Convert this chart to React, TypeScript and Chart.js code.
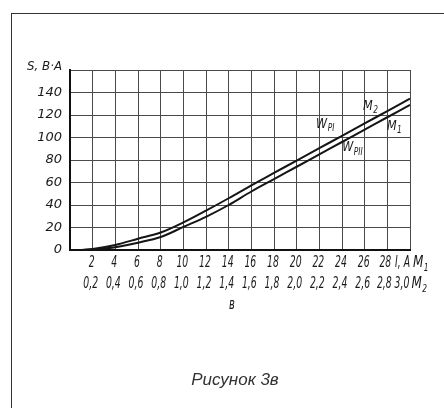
import React, { useEffect, useRef } from 'react';
import { Chart, registerables } from 'chart.js';

Chart.register(...registerables);

// Current I, A (scale M1)
const currentA = [1, 2, 4, 6, 8, 10, 12, 14, 16, 18, 20, 22, 24, 26, 28, 30];
// Upper curve W_PI (M2)
const sUpper = [0, 1, 4.5, 10, 15.5, 24.5, 35, 46, 57.5, 68.5, 79.5, 90.5, 101.5, 112.5, 123.5, 134.5];
// Lower curve W_PII (M1)
const sLower = [0, 0.5, 2.5, 6.5, 11.5, 20.5, 29.5, 40, 52, 63, 74, 85, 96, 107, 118, 129];

const xTickValues = [0, 2, 4, 6, 8, 10, 12, 14, 16, 18, 20, 22, 24, 26, 28, 30];
const xTicksM1 = ['', '2', '4', '6', '8', '10', '12', '14', '16', '18', '20', '22', '24', '26', '28', ''];
const xTicksM2 = ['', '0,2', '0,4', '0,6', '0,8', '1,0', '1,2', '1,4', '1,6', '1,8', '2,0', '2,2', '2,4', '2,6', '2,8', '3,0'];
const xAxisTitleM1 = 'I, A';
const yTickValues = [0, 20, 40, 60, 80, 100, 120, 140, 160];
const yTickLabels = ['0', '20', '40', '60', '80', '100', '120', '140', ''];

const FONT = '"DejaVu Sans", sans-serif';
const SQUEEZE = 0.62;

// draw condensed text (GOST-like narrow italic)
function narrow(ctx: CanvasRenderingContext2D, text: string, x: number, y: number, size: number, align: 'left' | 'center' | 'right') {
  ctx.font = `italic ${size}px ${FONT}`;
  const w = ctx.measureText(text).width * SQUEEZE;
  ctx.textAlign = align;
  ctx.textBaseline = 'middle';
  ctx.fillText(text, x, y, w);
  return w;
}

function drawSub(ctx: CanvasRenderingContext2D, main: string, sub: string, x0: number, cy: number, size = 14, align = 'center') {
  ctx.font = `italic ${size}px ${FONT}`;
  const w1 = ctx.measureText(main).width * 0.8;
  const subSize = Math.round(size * 0.68);
  ctx.font = `italic ${subSize}px ${FONT}`;
  const w2 = ctx.measureText(sub).width * 0.75;
  const start = align === 'center' ? x0 - (w1 + w2) / 2 : x0;
  ctx.textAlign = 'left';
  ctx.textBaseline = 'middle';
  ctx.font = `italic ${size}px ${FONT}`;
  ctx.fillText(main, start, cy, w1);
  ctx.font = `italic ${subSize}px ${FONT}`;
  ctx.fillText(sub, start + w1 + 0.5, cy + size * 0.32, w2);
  return start + w1 + w2;
}

const decor = {
  id: 'decor',
  afterDraw(chart: any) {
    const { ctx, chartArea, scales } = chart;
    const x = scales.x;
    const y = scales.y;
    ctx.save();
    ctx.fillStyle = '#1a1a1a';

    // x tick labels, two scales (M1: current, M2)
    const row1 = chartArea.bottom + 13.5;
    const row2 = row1 + 21;
    const last = xTickValues.length - 1;
    x.ticks.forEach((t: any) => {
      const i = xTickValues.indexOf(t.value);
      if (i < 0) return;
      const px = x.getPixelForValue(t.value);
      if (xTicksM1[i]) narrow(ctx, xTicksM1[i], px - (i === last - 1 ? 2 : 1), row1, 15, 'center');
      if (xTicksM2[i]) narrow(ctx, xTicksM2[i], px - (i === last ? 8 : i === last - 1 ? 3 : 2), row2, 15, 'center');
    });
    // axis end labels
    const r = chartArea.right;
    const wI = narrow(ctx, xAxisTitleM1, r - 15, row1, 15, 'left');
    drawSub(ctx, 'M', '1', r - 15 + wI + 3, row1, 15, 'left');
    ctx.font = `italic 15px ${FONT}`;
    const w30 = ctx.measureText(xTicksM2[last]).width * SQUEEZE;
    drawSub(ctx, 'M', '2', r - 8 + w30 / 2 + 2, row2, 15, 'left');

    // axis titles
    ctx.font = `italic 13px ${FONT}`;
    ctx.textAlign = 'right';
    ctx.textBaseline = 'middle';
    ctx.fillText('S, В·А', chartArea.left - 8, chartArea.top - 3, 35);
    narrow(ctx, 'в', 232, 305, 16, 'center');

    // curve labels
    drawSub(ctx, 'W', 'PI', x.getPixelForValue(22.5), y.getPixelForValue(112));
    drawSub(ctx, 'W', 'PII', x.getPixelForValue(24.9), y.getPixelForValue(91));
    drawSub(ctx, 'M', '2', x.getPixelForValue(26.5), y.getPixelForValue(128));
    drawSub(ctx, 'M', '1', x.getPixelForValue(28.6), y.getPixelForValue(110));
    ctx.restore();
  },
};

export default function App() {
  const ref = useRef<HTMLCanvasElement | null>(null);

  useEffect(() => {
    document.body.style.margin = '0';
    const canvas = ref.current;
    if (!canvas) return;
    const lineDs = (data: number[]) => ({
      data: currentA.map((v, i) => ({ x: v, y: data[i] })),
      borderColor: '#151515',
      borderWidth: 2,
      pointRadius: 0,
      fill: false,
      cubicInterpolationMode: 'monotone' as const,
    });
    const chart = new Chart(canvas, {
      type: 'line',
      data: {
        datasets: [lineDs(sUpper), lineDs(sLower)],
      },
      options: {
        animation: false,
        responsive: false,
        maintainAspectRatio: false,
        layout: { padding: { left: 0, top: 70, right: 34, bottom: 0 } },
        plugins: { legend: { display: false }, tooltip: { enabled: false } },
        scales: {
          x: {
            type: 'linear',
            min: 0,
            max: 30,
            afterBuildTicks: (s: any) => {
              s.ticks = xTickValues.map((v) => ({ value: v }));
            },
            afterFit: (s: any) => {
              s.height = 158;
            },
            grid: { color: '#4a4a4a', lineWidth: 1, drawTicks: false },
            border: { display: true, color: '#111', width: 2 },
            ticks: { display: false, autoSkip: false },
          },
          y: {
            type: 'linear',
            min: 0,
            max: 160,
            afterBuildTicks: (s: any) => {
              s.ticks = yTickValues.map((v) => ({ value: v }));
            },
            afterFit: (s: any) => {
              s.width = 70;
            },
            grid: { color: '#4a4a4a', lineWidth: 1, drawTicks: false },
            border: { display: true, color: '#111', width: 2 },
            ticks: {
              padding: 8,
              color: '#1a1a1a',
              font: { family: FONT, size: 13, style: 'italic' },
              callback: (v: any) => {
                const i = yTickValues.indexOf(Number(v));
                return i < 0 ? '' : yTickLabels[i];
              },
            },
          },
        },
      },
      plugins: [decor],
    });
    return () => chart.destroy();
  }, []);

  return (
    <div style={{ position: 'relative', width: 444, height: 408, background: '#fff', overflow: 'hidden' }}>
      <div
        style={{
          position: 'absolute',
          left: 11,
          top: 13,
          width: 460,
          height: 420,
          borderLeft: '1.5px solid #333',
          borderTop: '1.5px solid #333',
        }}
      />
      <canvas ref={ref} width={444} height={408} style={{ position: 'absolute', left: 0, top: 0 }} />
      <div
        style={{
          position: 'absolute',
          left: 0,
          width: 470,
          top: 370,
          textAlign: 'center',
          fontFamily: '"Liberation Sans", Arial, sans-serif',
          fontStyle: 'italic',
          fontSize: 17,
          color: '#333',
        }}
      >
        Рисунок 3в
      </div>
    </div>
  );
}
